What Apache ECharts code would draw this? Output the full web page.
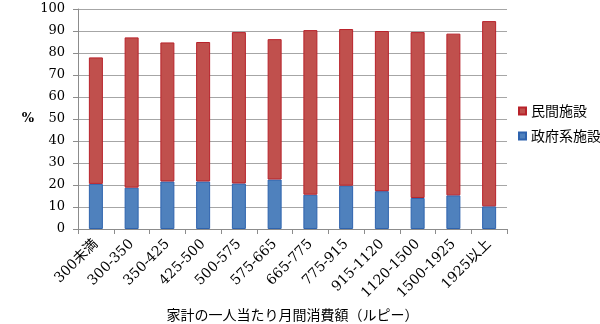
<!DOCTYPE html>
<html>
<head>
<meta charset="utf-8">
<script src="https://cdn.jsdelivr.net/npm/echarts@6/dist/echarts.min.js"></script>
<style>
  html, body { margin: 0; padding: 0; background: #ffffff; }
  #chart { width: 600px; height: 324px; }
</style>
</head>
<body>
<div id="chart"></div>
<script>
// 家計の一人当たり月間消費額階層別の利用施設割合（%）
const categories = ['300未満', '300-350', '350-425', '425-500', '500-575', '575-665',
                    '665-775', '775-915', '915-1120', '1120-1500', '1500-1925', '1925以上'];
const govShare = [20.5, 18.8, 21.6, 21.6, 20.7, 22.5, 15.6, 19.7, 17.2, 14.1, 15.3, 10.3];
const privateShare = [57.5, 68.3, 63.2, 63.4, 68.8, 63.8, 74.8, 71.2, 72.8, 75.4, 73.5, 84.2];
const yTicks = { min: 0, max: 100, interval: 10 };

const serif = '"DejaVu Serif", "Noto Sans CJK JP", serif';
const jp = '"Noto Sans CJK JP", sans-serif';

const chart = echarts.init(document.getElementById('chart'), null, { renderer: 'canvas' });
chart.setOption({
  animation: false,
  backgroundColor: '#ffffff',
  grid: { left: 78, right: 93, top: 9, bottom: 95, containLabel: false, outerBoundsMode: 'none' },
  legend: {
    orient: 'vertical',
    left: 513,
    top: 99,
    itemWidth: 7,
    itemHeight: 7,
    itemGap: 11,
    icon: 'rect',
    data: ['民間施設', '政府系施設'],
    textStyle: { fontFamily: jp, fontSize: 14, color: '#000' }
  },
  xAxis: {
    type: 'category',
    data: categories,
    name: '家計の一人当たり月間消費額（ルピー）',
    nameLocation: 'middle',
    nameGap: 77,
    nameTextStyle: { fontFamily: jp, fontSize: 14, color: '#000' },
    axisLine: { lineStyle: { color: '#8c8c8c', width: 1 } },
    axisTick: { show: true, length: 5, lineStyle: { color: '#8c8c8c' } },
    axisLabel: { rotate: 45, fontFamily: serif, fontSize: 14, color: '#000', margin: 13 }
  },
  yAxis: {
    type: 'value',
    min: yTicks.min,
    max: yTicks.max,
    interval: yTicks.interval,
    name: '%',
    nameLocation: 'middle',
    nameRotate: 0,
    nameGap: 44,
    nameTextStyle: { fontFamily: serif, fontSize: 13, color: '#000', fontWeight: 'bold' },
    axisLine: { show: true, lineStyle: { color: '#8c8c8c', width: 1 } },
    axisTick: { show: true, length: 5, lineStyle: { color: '#8c8c8c' } },
    axisLabel: { fontFamily: serif, fontSize: 13, color: '#000', margin: 13 },
    splitLine: { lineStyle: { color: '#a6a6a6', width: 1 } }
  },
  series: [
    {
      name: '政府系施設',
      type: 'bar',
      stack: 'total',
      barWidth: 14,
      data: govShare,
      itemStyle: { color: '#4F81BD', borderColor: '#2E63AE', borderWidth: 1 }
    },
    {
      name: '民間施設',
      type: 'bar',
      stack: 'total',
      barWidth: 14,
      data: privateShare,
      itemStyle: { color: '#C0504D', borderColor: '#B8222A', borderWidth: 1 }
    }
  ]
});
</script>
</body>
</html>
